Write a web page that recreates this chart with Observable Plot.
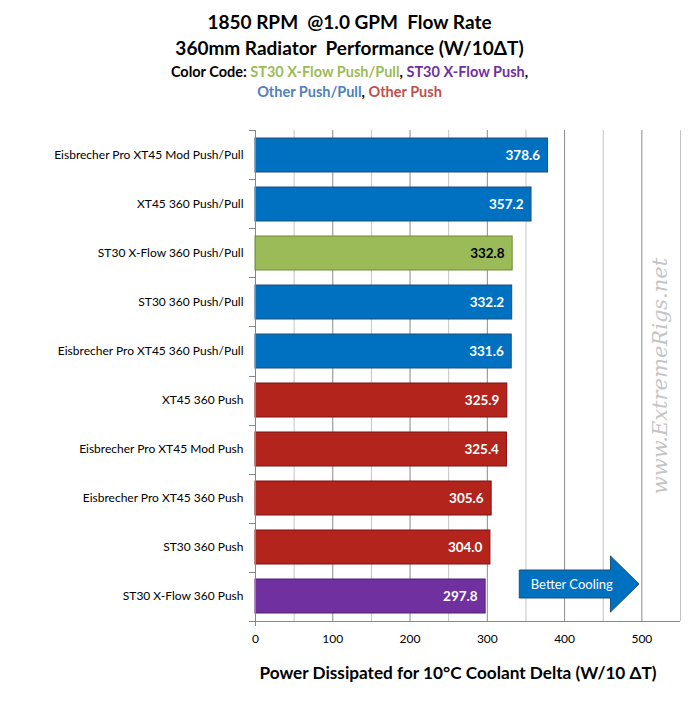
<!DOCTYPE html>
<html><head><meta charset="utf-8">
<script src="https://cdn.jsdelivr.net/npm/d3@7"></script>
<script src="https://cdn.jsdelivr.net/npm/@observablehq/plot@0.6"></script>
<style>
body{margin:0;background:#fff;font-family:Lato,"Open Sans",sans-serif;}
#head{position:relative;width:699px;height:115px;}
#head div{position:absolute;left:0;width:699px;text-align:center;white-space:pre;font-weight:bold;color:#000;}
#chart svg{display:block;}
</style></head><body>
<div id="head">
 <div style="top:10px;font-size:19px;">1850 RPM  @1.0 GPM  Flow Rate</div>
 <div style="top:36px;font-size:19px;">360mm Radiator  Performance (W/10ΔT)</div>
 <div style="top:63px;font-size:14.5px;">Color Code: <span style="color:#9BBB59">ST30 X-Flow Push/Pull</span>, <span style="color:#7030A0">ST30 X-Flow Push</span>,</div>
 <div style="top:83px;font-size:14.5px;"><span style="color:#4F81BD">Other Push/Pull</span>, <span style="color:#C0504D">Other Push</span></div>
</div>
<div id="chart"></div>
<script>
const categories = [
  "Eisbrecher Pro XT45 Mod Push/Pull",
  "XT45 360 Push/Pull",
  "ST30 X-Flow 360 Push/Pull",
  "ST30 360 Push/Pull",
  "Eisbrecher Pro XT45 360 Push/Pull",
  "XT45 360 Push",
  "Eisbrecher Pro XT45 Mod Push",
  "Eisbrecher Pro XT45 360 Push",
  "ST30 360 Push",
  "ST30 X-Flow 360 Push"
];
const values = [378.6, 357.2, 332.8, 332.2, 331.6, 325.9, 325.4, 305.6, 304.0, 297.8];
const groups = [
  "Other Push/Pull", "Other Push/Pull", "ST30 X-Flow Push/Pull", "Other Push/Pull", "Other Push/Pull",
  "Other Push", "Other Push", "Other Push", "Other Push", "ST30 X-Flow Push"
];
const groupNames = ["Other Push/Pull", "ST30 X-Flow Push/Pull", "Other Push", "ST30 X-Flow Push"];
const groupFills = ["#0070C0", "#9BBB59", "#B3241C", "#7030A0"];
const groupStrokes = ["#1F4E79", "#71893F", "#7F1010", "#4E2070"];
const groupLabelColors = ["#FFFFFF", "#000000", "#FFFFFF", "#FFFFFF"];
const xTicks = [0, 100, 200, 300, 400, 500];
const minorGrid = [50, 150, 250, 350, 450, 550];
const majorGrid = [100, 200, 300, 400, 500];
const xDomain = [0, 550];
const arrowLabel = "Better Cooling";
const arrowX = [342, 460, 497];   // body start, head start, tip (data units)
const arrowTextX = 410;
const watermark = "www.ExtremeRigs.net";
const xLabel = "Power Dissipated for 10°C Coolant Delta (W/10 ΔT)";

const data = categories.map((c, i) => ({name: c, value: values[i], group: groups[i]}));
const gi = g => groupNames.indexOf(g);

const boundaryTicks = (index, {y}, values, dim) => {
  const g = d3.create("svg:g").attr("stroke", "#868686").attr("fill", "none");
  const x0 = dim.marginLeft;
  const bottom = dim.height - dim.marginBottom;
  const top = dim.marginTop;
  const n = categories.length;
  const step = (bottom - top) / n;
  for (let i = 0; i <= n; i++) {
    const yy = Math.round(top + i * step) + 0.5;
    g.append("line").attr("x1", x0 - 6).attr("x2", x0).attr("y1", yy).attr("y2", yy);
  }
  g.append("line").attr("x1", x0 + 0.5).attr("x2", x0 + 0.5).attr("y1", top).attr("y2", bottom + 5);
  g.append("line").attr("x1", x0).attr("x2", dim.width - dim.marginRight).attr("y1", bottom + 0.5).attr("y2", bottom + 0.5);
  return g.node();
};

const arrowMark = (index, {x, y}) => {
  const last = categories[categories.length - 1];
  const cy = y(last) + y.bandwidth() / 2 - 12;
  const [a, b, c] = arrowX.map(x);
  const pts = [[a, cy - 14], [b, cy - 14], [b, cy - 28], [c, cy], [b, cy + 28], [b, cy + 14], [a, cy + 14]];
  const g = d3.create("svg:g");
  g.append("path").attr("d", "M" + pts.map(p => p.join(",")).join("L") + "Z")
    .attr("fill", "#0070C0").attr("stroke", "#1F4E79").attr("stroke-width", 1);
  g.append("text").attr("x", x(arrowTextX)).attr("y", cy).attr("dy", "0.35em")
    .attr("text-anchor", "middle").attr("fill", "white").attr("font-size", 13)
    .text(arrowLabel);
  return g.node();
};

const chart = Plot.plot({
  width: 699,
  height: 586,
  marginTop: 15,
  marginBottom: 80,
  marginLeft: 255,
  marginRight: 19,
  style: {fontFamily: "Lato, 'Open Sans', sans-serif", background: "white", color: "#000"},
  x: {domain: xDomain},
  y: {domain: categories, paddingInner: 0.3, paddingOuter: 0.15},
  color: {type: "identity"},
  marks: [
    Plot.ruleX(minorGrid, {stroke: "#c4c4c4"}),
    Plot.ruleX(majorGrid, {stroke: "#8a8a8a"}),
    Plot.text([watermark], {frameAnchor: "right", textAnchor: "middle", dx: -20, rotate: -90, fontSize: 21, fontStyle: "italic",
      fontFamily: "'DejaVu Serif', 'Liberation Serif', serif", fill: "#c4c4c4"}),
    Plot.barX(data, {x: "value", y: "name", fill: d => groupFills[gi(d.group)], stroke: d => groupStrokes[gi(d.group)], strokeWidth: 1}),
    Plot.text(data, {x: "value", y: "name", text: d => d.value.toFixed(1), textAnchor: "end", dx: -8,
      fill: d => groupLabelColors[gi(d.group)], fontWeight: "bold", fontSize: 13.5}),
    boundaryTicks,
    Plot.axisY({tickSize: 0, tickPadding: 12, fontSize: 12, label: null}),
    Plot.axisX(xTicks, {tickSize: 0, tickPadding: 13, fontSize: 12, label: null}),
    Plot.text([xLabel], {frameAnchor: "bottom", dy: 57, dx: -10, fontSize: 17.2, fontWeight: "bold", fill: "#000"}),
    arrowMark
  ]
});
document.getElementById("chart").appendChild(chart);
</script>
</body></html>
